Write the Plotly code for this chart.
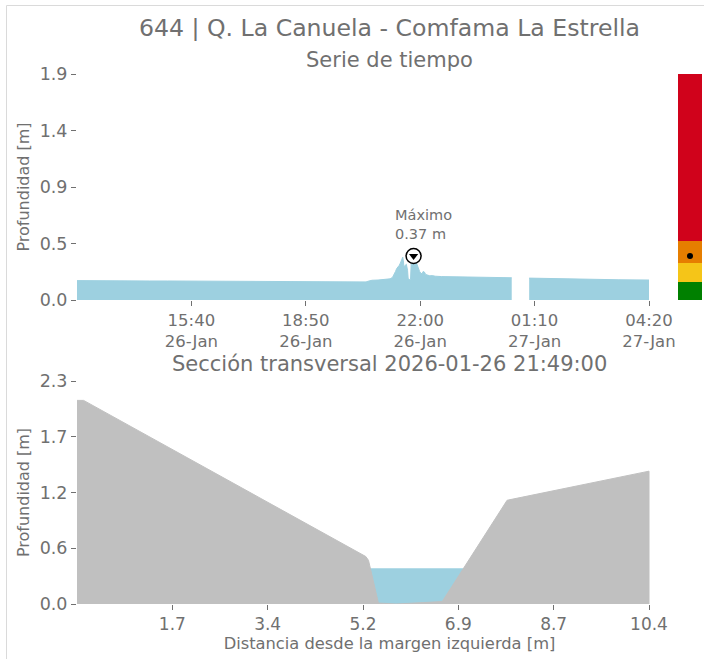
import plotly.graph_objects as go
from datetime import datetime

# ---------------- data ----------------
station_title = "644 | Q. La Canuela - Comfama La Estrella"
ts_subtitle = "Serie de tiempo"
section_subtitle = "Sección transversal 2026-01-26 21:49:00"

# segment 1 (before the data gap)
ts_times_a = [
    "2026-01-26 12:30", "2026-01-26 12:45", "2026-01-26 13:00", "2026-01-26 13:15",
    "2026-01-26 13:30", "2026-01-26 13:45", "2026-01-26 14:00", "2026-01-26 14:30",
    "2026-01-26 15:00", "2026-01-26 15:30", "2026-01-26 16:00", "2026-01-26 16:30",
    "2026-01-26 17:00", "2026-01-26 17:30", "2026-01-26 18:00", "2026-01-26 18:30",
    "2026-01-26 19:00", "2026-01-26 19:30", "2026-01-26 20:00", "2026-01-26 20:20",
    "2026-01-26 20:30", "2026-01-26 20:35", "2026-01-26 20:40", "2026-01-26 20:50",
    "2026-01-26 21:00", "2026-01-26 21:05", "2026-01-26 21:10", "2026-01-26 21:14",
    "2026-01-26 21:17", "2026-01-26 21:19", "2026-01-26 21:21", "2026-01-26 21:23",
    "2026-01-26 21:25", "2026-01-26 21:27", "2026-01-26 21:29", "2026-01-26 21:31",
    "2026-01-26 21:32", "2026-01-26 21:33", "2026-01-26 21:35", "2026-01-26 21:37",
    "2026-01-26 21:39", "2026-01-26 21:40", "2026-01-26 21:42", "2026-01-26 21:44",
    "2026-01-26 21:45", "2026-01-26 21:47", "2026-01-26 21:49", "2026-01-26 21:51",
    "2026-01-26 21:53", "2026-01-26 21:55", "2026-01-26 21:57", "2026-01-26 21:59",
    "2026-01-26 22:01", "2026-01-26 22:03", "2026-01-26 22:05", "2026-01-26 22:07",
    "2026-01-26 22:09", "2026-01-26 22:12", "2026-01-26 22:16", "2026-01-26 22:20",
    "2026-01-26 22:25", "2026-01-26 22:35", "2026-01-26 22:50", "2026-01-26 23:10",
    "2026-01-26 23:30", "2026-01-27 00:00", "2026-01-27 00:20", "2026-01-27 00:32",
]
ts_depth_a = [
    0.163, 0.162, 0.163, 0.162,
    0.161, 0.162, 0.161, 0.160,
    0.160, 0.159, 0.158, 0.158,
    0.157, 0.156, 0.155, 0.155,
    0.154, 0.153, 0.152, 0.151,
    0.152, 0.160, 0.166, 0.168,
    0.170, 0.172, 0.178, 0.190,
    0.215, 0.240, 0.265, 0.275,
    0.290, 0.310, 0.340, 0.360,
    0.330, 0.280, 0.290, 0.300,
    0.250, 0.180, 0.172, 0.175,
    0.300, 0.340, 0.370, 0.350,
    0.320, 0.290, 0.270, 0.240,
    0.225, 0.220, 0.240, 0.235,
    0.215, 0.208, 0.203, 0.205,
    0.200, 0.197, 0.195, 0.192,
    0.191, 0.190, 0.188, 0.187,
]
# segment 2 (after the data gap)
ts_times_b = [
    "2026-01-27 01:01", "2026-01-27 01:20", "2026-01-27 01:40", "2026-01-27 02:00",
    "2026-01-27 02:30", "2026-01-27 03:00", "2026-01-27 03:30", "2026-01-27 04:00",
    "2026-01-27 04:20",
]
ts_depth_b = [
    0.184, 0.182, 0.178, 0.175,
    0.173, 0.171, 0.170, 0.169,
    0.168,
]
max_time = "2026-01-26 21:49"
max_depth = 0.37

ts_y_ticktext = ["0.0", "0.5", "0.9", "1.4", "1.9"]
ts_y_max = 1.9

# alert thresholds (m) and colours
level_bounds = [0.0, 0.15, 0.31, 0.50, 1.9]
level_colors = ["#008000", "#F5C518", "#E67E00", "#D0021B"]

# cross section
section_dist = [0.0, 0.12, 5.25, 5.30, 5.48, 5.80, 6.30, 6.64, 7.82, 10.34, 10.40, 10.40]
section_elev = [2.10, 2.10, 0.49, 0.45, 0.01, 0.0, 0.015, 0.025, 1.07, 1.37, 1.37, 0.0]
water_level = 0.37
section_width = 10.4
section_x_ticktext = ["1.7", "3.4", "5.2", "6.9", "8.7", "10.4"]
section_y_ticktext = ["0.0", "0.6", "1.2", "1.7", "2.3"]
section_y_max = 2.3

# ---------------- figure ----------------
FONT = "DejaVu Sans"
TXT = "#707070"
W, H = 704, 659
ML, MT = 77, 74
MR = W - 702
MB = H - 604
pw, ph = W - ML - MR, H - MT - MB

def sx(px):  # pixel x -> paper
    return (px - ML) / pw

def sy(py):  # pixel y -> paper
    return (H - MB - py) / ph

water_blue = "#9DD0E0"
ground_gray = "#C0C0C0"

fig = go.Figure()

for tx, ty in ((ts_times_a, ts_depth_a), (ts_times_b, ts_depth_b)):
    fig.add_trace(go.Scatter(
        x=tx, y=ty, mode="lines", fill="tozeroy",
        line=dict(color=water_blue, width=1), fillcolor=water_blue,
        xaxis="x", yaxis="y", showlegend=False,
    ))
# max marker
fig.add_trace(go.Scatter(
    x=[max_time], y=[max_depth], mode="markers",
    marker=dict(symbol="circle", size=15, color="white", line=dict(color="black", width=1.5)),
    xaxis="x", yaxis="y", showlegend=False,
))
fig.add_trace(go.Scatter(
    x=[max_time], y=[max_depth], mode="markers",
    marker=dict(symbol="triangle-down", size=8, color="black"),
    xaxis="x", yaxis="y", showlegend=False,
))

# alert level bar
fig.add_trace(go.Bar(
    x=[0] * len(level_colors),
    base=level_bounds[:-1],
    y=[level_bounds[i + 1] - level_bounds[i] for i in range(len(level_colors))],
    marker=dict(color=level_colors, line=dict(width=0)),
    width=1, xaxis="x3", yaxis="y", showlegend=False,
))
fig.add_trace(go.Scatter(
    x=[0], y=[max_depth], mode="markers",
    marker=dict(size=6, color="black"), xaxis="x3", yaxis="y", showlegend=False,
))

# cross section: water then ground
fig.add_trace(go.Scatter(
    x=[0, section_width], y=[water_level, water_level], mode="lines", fill="tozeroy",
    line=dict(color=water_blue, width=0), fillcolor=water_blue,
    xaxis="x2", yaxis="y2", showlegend=False,
))
fig.add_trace(go.Scatter(
    x=section_dist, y=section_elev, mode="lines", fill="tozeroy",
    line=dict(color=ground_gray, width=1), fillcolor=ground_gray,
    xaxis="x2", yaxis="y2", showlegend=False,
))

t0 = datetime.strptime(ts_times_a[0], "%Y-%m-%d %H:%M")
t1 = datetime.strptime(ts_times_b[-1], "%Y-%m-%d %H:%M")
step = (t1 - t0) / 5
ts_tickvals = [t0 + step * k for k in range(1, 6)]
ts_ticktext = [t.strftime("%H:%M") + "<br>" + t.strftime("%d-%b") for t in ts_tickvals]

x_dom_end = sx(649)
top_dom = [sy(300), sy(74)]
bot_dom = [sy(604), sy(381)]

axis_common = dict(showgrid=False, zeroline=False, showline=False, ticks="outside",
                   ticklen=5, tickcolor=TXT, automargin=False)

fig.update_layout(
    width=W, height=H, autosize=False,
    margin=dict(l=ML, r=MR, t=MT, b=MB, autoexpand=False),
    paper_bgcolor="white", plot_bgcolor="white",
    font=dict(family=FONT, color=TXT),
    showlegend=False,
    title=dict(text=station_title, x=0.5, xref="paper", xanchor="center",
               y=1 - 28 / H, yref="container", yanchor="middle",
               font=dict(size=23.6, color=TXT)),
    xaxis=dict(domain=[0, x_dom_end], anchor="y", type="date",
               range=[t0, t1], tickvals=ts_tickvals, ticktext=ts_ticktext,
               tickfont=dict(size=16.5, color=TXT), **axis_common),
    yaxis=dict(domain=top_dom, anchor="x", range=[0, ts_y_max],
               tickvals=[ts_y_max * k / 4 for k in range(5)], ticktext=ts_y_ticktext,
               tickfont=dict(size=17.5, color=TXT),
               title=dict(text="Profundidad [m]", font=dict(size=16, color=TXT), standoff=6),
               **axis_common),
    xaxis3=dict(domain=[sx(678), 1], anchor="y", range=[-0.5, 0.5], visible=False),
    # full-width domain; range extended so that the section ends at 10.4
    xaxis2=dict(domain=[0, 1], anchor="y2", range=[0, section_width / x_dom_end],
                tickvals=[section_width * k / 6 for k in range(1, 7)], ticktext=section_x_ticktext,
                tickfont=dict(size=17, color=TXT),
                title=dict(text="Distancia desde la margen izquierda [m]",
                           font=dict(size=16.3, color=TXT), standoff=0),
                **axis_common),
    yaxis2=dict(domain=bot_dom, anchor="x2", range=[0, section_y_max],
                tickvals=[section_y_max * k / 4 for k in range(5)], ticktext=section_y_ticktext,
                tickfont=dict(size=17.5, color=TXT),
                title=dict(text="Profundidad [m]", font=dict(size=16, color=TXT), standoff=6),
                **axis_common),
    bargap=0,
)

fig.add_annotation(text=ts_subtitle, x=0.5, y=sy(60), xref="paper", yref="paper",
                   xanchor="center", yanchor="middle", showarrow=False,
                   font=dict(size=21, color=TXT))
fig.add_annotation(text=section_subtitle, x=0.5, y=sy(364), xref="paper", yref="paper",
                   xanchor="center", yanchor="middle", showarrow=False,
                   font=dict(size=21, color=TXT))
fig.add_annotation(text="Máximo<br>%.2f m" % max_depth, x=max_time, y=max_depth, xref="x", yref="y",
                   xanchor="center", yanchor="bottom", align="left", showarrow=False,
                   xshift=10, yshift=12, font=dict(size=14.5, color=TXT))

# faint outer frame
fig.add_shape(type="line", xref="paper", yref="paper",
              x0=sx(6.5), x1=sx(6.5), y0=sy(H + 5), y1=sy(5.5),
              line=dict(color="#DADADA", width=1))
fig.add_shape(type="line", xref="paper", yref="paper",
              x0=sx(6.5), x1=sx(W + 5), y0=sy(5.5), y1=sy(5.5),
              line=dict(color="#DADADA", width=1))

page_fix = (
    "document.body.style.margin='0';"
    "document.body.style.overflow='hidden';"
    "Plotly.relayout(document.getElementById('{plot_id}'), {width: %d, height: %d});" % (W, H)
)
fig.write_html("out.html", config={"responsive": False, "displayModeBar": False},
               post_script=page_fix)
